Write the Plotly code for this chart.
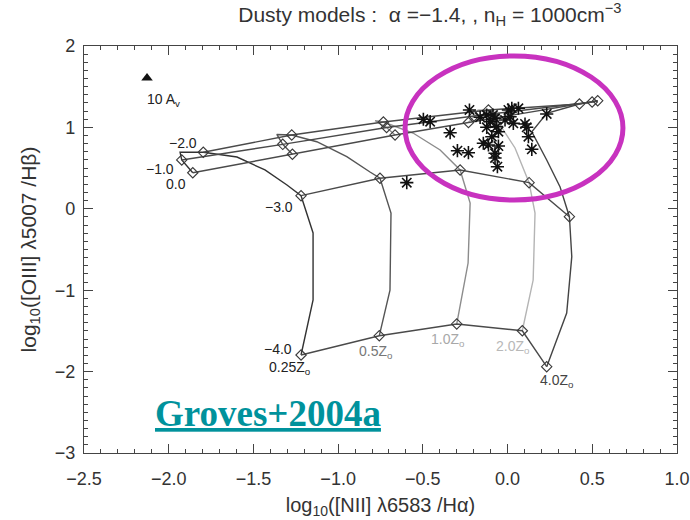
import plotly.graph_objects as go

# Model grid: one track per metallicity, running from log U = 0 down to log U = -4.
# Nodes (diamonds) sit at log U = 0, -1, -2, -3, -4; other points trace the bends.
metal_labels = ["0.25Z<sub>o</sub>", "0.5Z<sub>o</sub>", "1.0Z<sub>o</sub>", "2.0Z<sub>o</sub>", "4.0Z<sub>o</sub>"]
logU_labels = ["0.0", "-1.0", "-2.0", "-3.0", "-4.0"]

z025_x = [-1.858, -1.923, -1.933, -1.796, -1.597, -1.432, -1.302, -1.219, -1.148, -1.148, -1.219]
z025_y = [0.443, 0.600, 0.694, 0.694, 0.636, 0.477, 0.292, 0.161, -0.297, -1.120, -1.796]
z025_nodes = [0, 1, 3, 7, 10]

z05_x = [-1.270, -1.327, -1.362, -1.274, -1.126, -0.949, -0.812, -0.753, -0.688, -0.694, -0.757]
z05_y = [0.670, 0.792, 0.913, 0.907, 0.824, 0.640, 0.452, 0.375, -0.052, -0.998, -1.559]
z05_nodes = [0, 1, 3, 7, 10]

z10_x = [-0.664, -0.714, -0.782, -0.733, -0.558, -0.398, -0.280, -0.221, -0.233, -0.300]
z10_y = [0.907, 0.999, 1.082, 1.066, 0.931, 0.722, 0.477, 0.071, -0.666, -1.415]
z10_nodes = [0, 1, 3, 6, 9]

z20_x = [-0.231, -0.198, -0.174, -0.113, -0.044, 0.044, 0.127, 0.162, 0.151, 0.087]
z20_y = [1.060, 1.140, 1.214, 1.214, 1.029, 0.747, 0.321, -0.052, -0.875, -1.498]
z20_nodes = [0, 1, 3, 6, 9]

z40_x = [0.532, 0.499, 0.424, 0.231, 0.143, 0.231, 0.310, 0.365, 0.379, 0.349, 0.231]
z40_y = [1.328, 1.312, 1.287, 1.173, 0.947, 0.600, 0.268, -0.097, -0.588, -1.280, -1.940]
z40_nodes = [0, 1, 2, 7, 10]

# Observed galaxies
obs_x = [-0.497, -0.457, -0.225, -0.339, -0.296, -0.231, -0.595, -0.162, -0.123, -0.103,
         -0.074, -0.123, -0.064, -0.054, -0.093, -0.143, -0.113, -0.054, -0.074, -0.074,
         -0.060, 0.005, 0.025, 0.064, 0.015, 0.034, -0.015, 0.103, 0.113, 0.123,
         0.143, 0.231, -0.086]
obs_y = [1.100, 1.070, 1.214, 0.935, 0.714, 0.689, 0.321, 1.124, 1.152, 1.070,
         1.112, 1.001, 1.009, 0.947, 0.886, 0.805, 0.784, 0.771, 0.682, 0.624,
         0.517, 1.214, 1.235, 1.235, 1.131, 1.050, 1.091, 1.042, 1.001, 0.886,
         0.731, 1.165, 1.152]

tracks = [
    (z025_x, z025_y, z025_nodes, "#333333"),
    (z05_x, z05_y, z05_nodes, "#555555"),
    (z10_x, z10_y, z10_nodes, "#8c8c8c"),
    (z20_x, z20_y, z20_nodes, "#b4b4b4"),
    (z40_x, z40_y, z40_nodes, "#444444"),
]

fig = go.Figure()

# metallicity tracks
for tx, ty, nodes, col in tracks:
    fig.add_trace(go.Scatter(x=tx, y=ty, mode="lines",
                             line=dict(color=col, width=1.4), hoverinfo="skip"))

# constant ionisation-parameter lines joining the nodes
for k in range(len(logU_labels)):
    ux = [t[0][t[2][k]] for t in tracks]
    uy = [t[1][t[2][k]] for t in tracks]
    fig.add_trace(go.Scatter(x=ux, y=uy, mode="lines",
                             line=dict(color="#4a4a4a", width=1.4), hoverinfo="skip"))

# node diamonds
nx, ny = [], []
for tx, ty, nodes, col in tracks:
    nx += [tx[i] for i in nodes]
    ny += [ty[i] for i in nodes]
fig.add_trace(go.Scatter(x=nx, y=ny, mode="markers",
                         marker=dict(symbol="diamond-open", size=8, color="#3a3a3a",
                                     line=dict(color="#3a3a3a", width=1.1)),
                         hoverinfo="skip"))

# observed points
fig.add_trace(go.Scatter(x=obs_x, y=obs_y, mode="markers",
                         marker=dict(symbol="asterisk-open", size=11, color="#111111",
                                     line=dict(color="#111111", width=1.6)),
                         hoverinfo="skip"))

font_main = "Liberation Sans"
txt = "#333333"

# log U labels
ulab_pos = [(-1.957, 0.305), (-2.051, 0.489), (-1.916, 0.808), (-1.349, 0.022), (-1.355, -1.721)]
for lab, (lx, ly) in zip(logU_labels, ulab_pos):
    fig.add_annotation(x=lx, y=ly, text=lab.replace("-", "\u2212"), showarrow=False,
                       font=dict(family=font_main, size=14, color="#222222"))

# metallicity labels
zlab_pos = [(-1.283, -1.955), (-0.776, -1.759), (-0.351, -1.612), (0.032, -1.698), (0.292, -2.116)]
zlab_col = ["#222222", "#777777", "#a8a8a8", "#b8b8b8", "#444444"]
for lab, (lx, ly), c in zip(metal_labels, zlab_pos, zlab_col):
    fig.add_annotation(x=lx, y=ly, text=lab, showarrow=False,
                       font=dict(family=font_main, size=14, color=c))

# reddening vector marker
fig.add_trace(go.Scatter(x=[-2.128], y=[1.607], mode="markers",
                         marker=dict(symbol="triangle-up", size=10, color="#111111"),
                         hoverinfo="skip"))
fig.add_annotation(x=-2.033, y=1.337, text="10 A<sub>v</sub>", showarrow=False,
                   font=dict(family=font_main, size=14, color="#222222"))

# highlight region
fig.add_shape(type="circle", xref="x", yref="y",
              x0=0.038 - 0.643, x1=0.038 + 0.643, y0=0.993 - 0.885, y1=0.993 + 0.885,
              line=dict(color="#c832bf", width=5))

fig.add_annotation(x=-1.414, y=-2.52, text="<b><u>Groves+2004a</u></b>", showarrow=False,
                   font=dict(family="Liberation Serif", size=37, color="#00929c"))

axis_common = dict(
    showline=True, linecolor="#444444", linewidth=1.2, mirror="allticks",
    ticks="inside", ticklen=9, tickcolor="#444444", showgrid=False, zeroline=False,
    tickfont=dict(family=font_main, size=18, color=txt),
)

fig.update_xaxes(range=[-2.5, 1.0], dtick=0.5, tickformat=".1f", ticklabelstandoff=9,
                 minor=dict(dtick=0.1, ticks="inside", ticklen=4, tickcolor="#444444"),
                 title=dict(text="log<sub>10</sub>([NII] \u03bb6583 /H\u03b1)",
                            font=dict(family=font_main, size=20, color=txt), standoff=10),
                 **axis_common)
fig.update_yaxes(range=[-3, 2], dtick=1, ticklabelstandoff=4,
                 minor=dict(dtick=0.1, ticks="inside", ticklen=4, tickcolor="#444444"),
                 title=dict(text="log<sub>10</sub>([OIII] \u03bb5007 /H\u03b2)",
                            font=dict(family=font_main, size=21, color=txt), standoff=12),
                 **axis_common)

fig.update_layout(
    width=690, height=520,
    margin=dict(l=84, r=13, t=46, b=67, autoexpand=False),
    paper_bgcolor="white", plot_bgcolor="white",
    showlegend=False,
    title=dict(text="Dusty models :  \u03b1 =\u22121.4, , n<sub>H</sub> = 1000cm<sup>\u22123</sup>",
               x=0.623, xanchor="center", y=0.972, yanchor="middle",
               font=dict(family=font_main, size=21, color=txt)),
)

fig.write_html("out.html")
